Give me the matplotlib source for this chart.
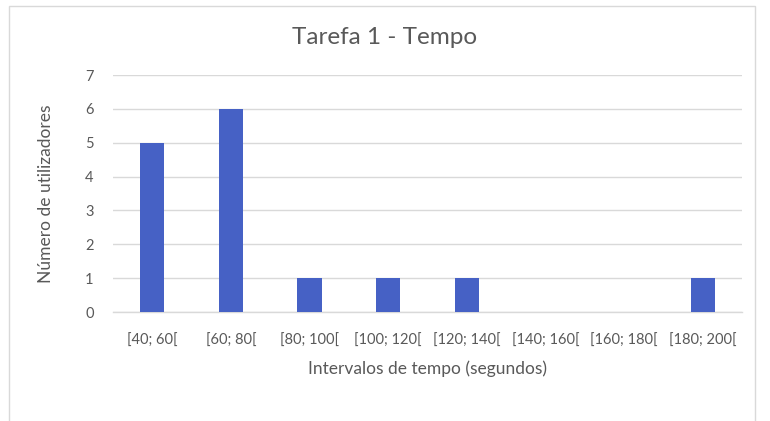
import matplotlib
matplotlib.use("Agg")
import matplotlib.pyplot as plt
from matplotlib.patches import Rectangle

categories = ["[40; 60[", "[60; 80[", "[80; 100[", "[100; 120[", "[120; 140[",
              "[140; 160[", "[160; 180[", "[180; 200["]
values = [5, 6, 1, 1, 1, 0, 0, 1]
yticks = [0, 1, 2, 3, 4, 5, 6, 7]

plt.rcParams['font.family'] = ['Lato', 'DejaVu Sans']

W, H = 770, 421
fig = plt.figure(figsize=(W/100, H/100), dpi=100)
fig.patch.set_facecolor("white")

# outer chart border
fig.add_artist(Rectangle((9/W, -0.01), (755-9)/W, 1 - 6/H + 0.01, transform=fig.transFigure,
                         fill=False, edgecolor="#D9D9D9", linewidth=1.0))

ax = fig.add_axes([113/W, 1 - 312/H, (742-113)/W, (312-75)/H])
x = list(range(len(categories)))
ax.bar(x, values, width=0.31, color="#4661C5", zorder=3)
ax.set_xlim(-0.5, len(categories) - 0.5)
ax.set_ylim(0, 7)
ax.set_yticks(yticks)
ax.set_xticks(x)
ax.set_xticklabels(categories)
ax.grid(axis="y", color="#D9D9D9", linewidth=1.0, zorder=0)
for s in ["top", "right", "left"]:
    ax.spines[s].set_visible(False)
ax.spines["bottom"].set_color("#D9D9D9")
ax.spines["bottom"].set_linewidth(1.0)
ax.tick_params(axis="both", length=0, colors="#595959", labelsize=10.5)
ax.tick_params(axis="y", pad=14)
ax.tick_params(axis="x", pad=16)

fig.text(385/W, 1 - 38/H, "Tarefa 1 - Tempo", color="#595959", fontsize=17.5,
         ha="center", va="center")
ax.set_xlabel("Intervalos de tempo (segundos)", color="#595959", fontsize=12.5, labelpad=9)
ax.set_ylabel("Número de utilizadores", color="#595959", fontsize=12.5, labelpad=22)

fig.savefig("out.png", dpi=100, facecolor="white")
